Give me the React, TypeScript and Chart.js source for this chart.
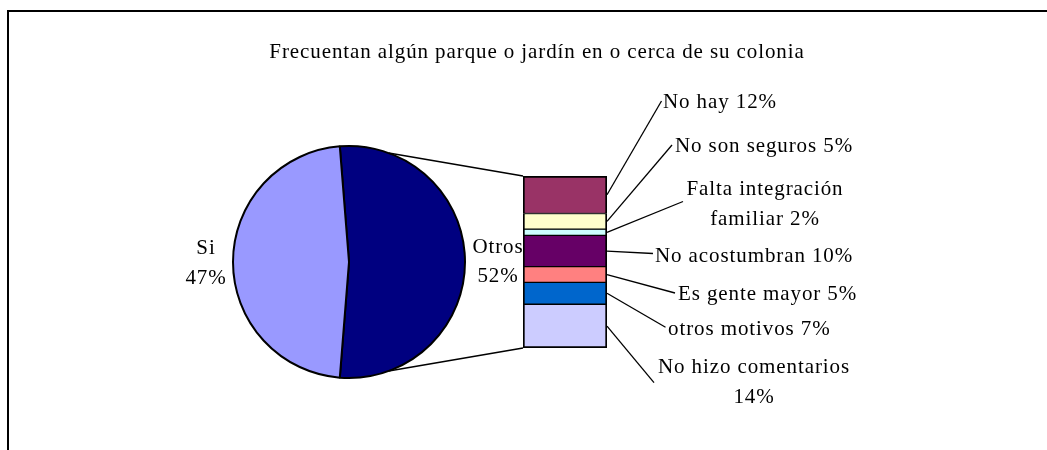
import React, { useEffect, useRef } from "react";
import { Chart, registerables } from "chart.js";

Chart.register(...registerables);

// ---------- data ----------
const TITLE = "Frecuentan algún parque o jardín en o cerca de su colonia";

const pieLabels = ["Otros", "Si"];
const pieValues = [52, 47]; // percent
const pieColors = ["#000080", "#9999FF"];

const subLabels = [
  "No hay",
  "No son seguros",
  "Falta integración familiar",
  "No acostumbran",
  "Es gente mayor",
  "otros motivos",
  "No hizo comentarios",
];
const subValues = [12, 5, 2, 10, 5, 7, 14]; // percent
const subColors = ["#993366", "#FFFFCC", "#CCFFFF", "#660066", "#FF8080", "#0066CC", "#CCCCFF"];

// ---------- layout ----------
const W = 1047;
const H = 450;
const PIE_CX = 349;
const PIE_CY = 262;
const PIE_R = 116;
const BAR_LEFT = 523;
const BAR_RIGHT = 607;
const BAR_TOP = 176;
const BAR_BOTTOM = 348;
const CONNECT_ANGLE = 70; // degrees from horizontal where series lines leave the pie
const FONT = '21px "Liberation Serif", "Times New Roman", serif';
const SPACING = "0.9px";
const LINE_H = 29.5;

// pie label anchors (center x, first baseline)
const pieLabelPos = [
  { x: 498, y: 252.5 },
  { x: 206, y: 254 },
];

// sub label anchors: text x, first baseline, alignment, words on first line, leader end
const subLabelPos = [
  { x: 663, y: 108, align: "left", wrap: 0, ex: 661.5, ey: 101 },
  { x: 675, y: 151.5, align: "left", wrap: 0, ex: 672, ey: 145 },
  { x: 765, y: 195, align: "center", wrap: 2, ex: 683, ey: 201.5 },
  { x: 655, y: 261.5, align: "left", wrap: 0, ex: 653, ey: 253.5 },
  { x: 678, y: 300, align: "left", wrap: 0, ex: 675, ey: 293 },
  { x: 668, y: 335, align: "left", wrap: 0, ex: 665.5, ey: 327.3 },
  { x: 754, y: 373.3, align: "center", wrap: 3, ex: 654, ey: 382.7 },
];

function pct(v: number) {
  return Math.round(v) + "%";
}

export default function App() {
  const pieRef = useRef<HTMLCanvasElement | null>(null);
  const barRef = useRef<HTMLCanvasElement | null>(null);

  useEffect(() => {
    if (!pieRef.current || !barRef.current) return;
    const pieTotal = pieValues.reduce((a, b) => a + b, 0);
    const subTotal = subValues.reduce((a, b) => a + b, 0);
    const rotation = 90 - (pieValues[0] / pieTotal) * 180;

    const pieChart = new Chart(pieRef.current, {
      type: "pie",
      data: {
        labels: pieLabels,
        datasets: [
          {
            data: pieValues,
            backgroundColor: pieColors,
            borderColor: "#000000",
            borderWidth: 2,
          },
        ],
      },
      options: {
        responsive: false,
        animation: false,
        rotation,
        radius: PIE_R,
        layout: {
          padding: {
            left: PIE_CX - PIE_R,
            right: W - PIE_CX - PIE_R,
            top: PIE_CY - PIE_R,
            bottom: H - PIE_CY - PIE_R,
          },
        },
        plugins: {
          legend: { display: false },
          tooltip: { enabled: false },
        },
      } as any,
    });

    const overlay = {
      id: "overlay",
      afterDraw(chart: any) {
        const ctx = chart.ctx as CanvasRenderingContext2D;
        ctx.save();
        // frame
        ctx.strokeStyle = "#000";
        ctx.lineWidth = 2;
        ctx.beginPath();
        ctx.moveTo(8, H + 5);
        ctx.lineTo(8, 11);
        ctx.lineTo(W + 5, 11);
        ctx.stroke();

        ctx.font = FONT;
        (ctx as any).letterSpacing = SPACING;
        ctx.fillStyle = "#000";
        ctx.textBaseline = "alphabetic";

        // title
        ctx.textAlign = "center";
        ctx.fillText(TITLE, 537, 57.5);

        // pie labels
        pieLabels.forEach((lab, i) => {
          const p = pieLabelPos[i];
          ctx.textAlign = "center";
          ctx.fillText(lab, p.x, p.y);
          ctx.fillText(pct(pieValues[i]), p.x, p.y + LINE_H);
        });

        // series lines from pie to bar
        const arc: any = pieChart.getDatasetMeta(0).data[0];
        const first: any = chart.getDatasetMeta(0).data[0];
        const last: any = chart.getDatasetMeta(subValues.length - 1).data[0];
        const a = (CONNECT_ANGLE * Math.PI) / 180;
        const barL = first.x - first.width / 2;
        ctx.lineWidth = 1.6;
        ctx.beginPath();
        ctx.moveTo(arc.x + arc.outerRadius * Math.cos(-a), arc.y + arc.outerRadius * Math.sin(-a));
        ctx.lineTo(barL, Math.min(first.y, first.base));
        ctx.moveTo(arc.x + arc.outerRadius * Math.cos(a), arc.y + arc.outerRadius * Math.sin(a));
        ctx.lineTo(barL, Math.max(last.y, last.base));
        ctx.stroke();

        // leader lines + labels
        ctx.lineWidth = 1.3;
        subLabels.forEach((lab, i) => {
          const el: any = chart.getDatasetMeta(i).data[0];
          const sx = el.x + el.width / 2;
          const sy = (el.y + el.base) / 2;
          const p = subLabelPos[i];
          ctx.beginPath();
          ctx.moveTo(sx, sy);
          ctx.lineTo(p.ex, p.ey);
          ctx.stroke();
          const words = (lab + " " + pct(subValues[i])).split(" ");
          const lines = p.wrap
            ? [words.slice(0, p.wrap).join(" "), words.slice(p.wrap).join(" ")]
            : [words.join(" ")];
          ctx.textAlign = p.align as CanvasTextAlign;
          lines.forEach((ln, k) => ctx.fillText(ln, p.x, p.y + k * LINE_H));
        });
        ctx.restore();
      },
    };

    const barChart = new Chart(barRef.current, {
      type: "bar",
      data: {
        labels: [""],
        datasets: subLabels.map((lab, i) => ({
          label: lab,
          data: [subValues[i]],
          backgroundColor: subColors[i],
          borderColor: "#000000",
          borderWidth: {
            top: i === 0 ? 2 : 1,
            bottom: i === subValues.length - 1 ? 2 : 1,
            left: 2,
            right: 2,
          },
          borderSkipped: false,
          barPercentage: 1,
          categoryPercentage: 1,
        })),
      },
      options: {
        responsive: false,
        animation: false,
        layout: {
          padding: {
            left: BAR_LEFT,
            right: W - BAR_RIGHT,
            top: BAR_TOP,
            bottom: H - BAR_BOTTOM,
          },
        },
        scales: {
          x: { stacked: true, display: false },
          y: { stacked: true, display: false, reverse: true, min: 0, max: subTotal },
        },
        plugins: {
          legend: { display: false },
          tooltip: { enabled: false },
        },
      } as any,
      plugins: [overlay],
    });

    return () => {
      barChart.destroy();
      pieChart.destroy();
    };
  }, []);

  return (
    <div style={{ position: "fixed", left: 0, top: 0, width: W, height: H, background: "#fff" }}>
      <canvas ref={pieRef} width={W} height={H} style={{ position: "absolute", left: 0, top: 0 }} />
      <canvas ref={barRef} width={W} height={H} style={{ position: "absolute", left: 0, top: 0 }} />
    </div>
  );
}
